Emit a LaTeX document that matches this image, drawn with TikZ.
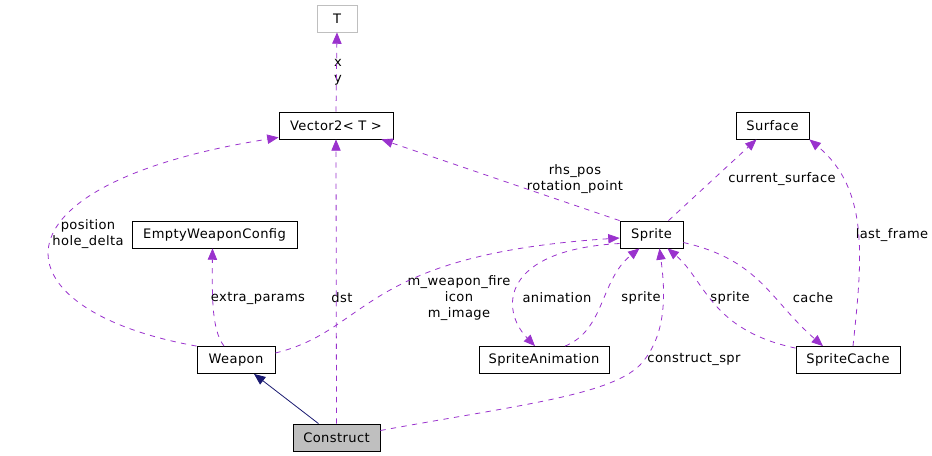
\documentclass[tikz,border=0pt]{standalone}
\usepackage{fontspec}
\setmainfont{DejaVu Sans}[LetterSpace=3]
\usetikzlibrary{arrows.meta, calc}
\definecolor{edgepurple}{HTML}{9A32CD}
\definecolor{edgenavy}{HTML}{191970}
\definecolor{boxgray}{HTML}{BFBFBF}

\begin{document}
\begin{tikzpicture}[x=0.75pt, y=-0.75pt,
    font=\fontsize{9.8pt}{12pt}\selectfont,
    cls/.style={draw=black, line width=0.6pt, inner sep=0pt,
                minimum height=20.25pt, minimum width=#1},
    usage/.style={draw=edgepurple, line width=0.6pt, dash pattern=on 4pt off 4pt,
                  -{Triangle[length=8.5pt, width=7pt]}},
    inherit/.style={draw=edgenavy, line width=0.6pt,
                    -{Triangle[length=8.5pt, width=7pt]}},
    lbl/.style={align=center, inner sep=0pt}
]
    \useasboundingbox (0,0) rectangle (932,456);

    % classes
    \node[cls=30pt, draw=boxgray] (t) at (337,18.5) {T};
    \node[cls=85.5pt] (vector) at (336,125.5) {Vector2< T >};
    \node[cls=54.75pt] (surface) at (772.5,125.5) {Surface};
    \node[cls=47.25pt] (sprite) at (651.5,234.5) {Sprite};
    \node[cls=123.75pt] (emptycfg) at (214.5,234.5) {EmptyWeaponConfig};
    \node[cls=58.5pt] (weapon) at (236,360) {Weapon};
    \node[cls=97.5pt] (spriteanim) at (544,360) {SpriteAnimation};
    \node[cls=78pt] (spritecache) at (848,360) {SpriteCache};
    \node[cls=65.25pt, fill=boxgray] (construct) at (336.5,437.5) {Construct};

    % member labels
    \node[lbl] (lblxy) at (338,72) {x\\y};
    \node[lbl] (lblpos) at (88,234.5) {position\\hole\_delta};
    \node[lbl] (lblextra) at (258,298) {extra\_params};
    \node[lbl] (lbldst) at (342,298) {dst};
    \node[lbl] (lblfire) at (459,298.5) {m\_weapon\_fire\\icon\\m\_image};
    \node[lbl] (lblrhs) at (575,179) {rhs\_pos\\rotation\_point};
    \node[lbl] (lblsurf) at (782,179) {current\_surface};
    \node[lbl] (lblframe) at (892,235) {last\_frame};
    \node[lbl] (lblanim) at (557,298) {animation};
    \node[lbl] (lblsprite) at (641,298) {sprite};
    \node[lbl] (lblsprite2) at (730,298) {sprite};
    \node[lbl] (lblcache) at (813,298) {cache};
    \node[lbl] (lblconstr) at (694,359) {construct\_spr};

    % usage relations
    \draw[usage] (vector.north) -- (t.south);
    \draw[usage] (weapon.north west) .. controls (-5,310) and (-20,185) .. ($(vector.south west)+(0,-2)$);
    \draw[usage] (construct.north) -- (vector.south);
    \draw[usage] ($(weapon.north)+(-12,0)$) .. controls (212,330) and (212,300) .. ($(emptycfg.south)+(-2,0)$);
    \draw[usage] ($(weapon.east)+(0,-7)$) .. controls (370,330) and (360,255) .. ($(sprite.west)+(0,3.5)$);
    \draw[usage] (sprite.north west) -- ($(vector.south east)+(-12,0)$);
    \draw[usage] ($(sprite.north)+(17,0)$) -- ($(surface.south)+(-16,0)$);
    \draw[usage] ($(spritecache.north)+(5,0)$) .. controls (862,260) and (870,190) .. (surface.south east);
    \draw[usage] ($(sprite.east)+(0,8)$) .. controls (760,260) and (770,300) .. ($(spritecache.north)+(-25,0)$);
    \draw[usage] ($(spritecache.north west)+(0,2)$) .. controls (710,330) and (705,280) .. ($(sprite.south)+(16,0)$);
    \draw[usage] ($(spriteanim.north)+(21,0)$) .. controls (605,330) and (600,280) .. ($(sprite.south)+(-12,0)$);
    \draw[usage] ($(sprite.west)+(0,9)$) .. controls (500,250) and (500,310) .. ($(spriteanim.north)+(-9,0)$);
    \draw[usage] ($(construct.east)+(0,-7)$) .. controls (520,405) and (610,395) .. (640,365)
        .. controls (668,335) and (665,290) .. ($(sprite.south)+(8,0)$);

    % inheritance
    \draw[inherit] ($(construct.north)+(-18,0)$) -- ($(weapon.south)+(18,0)$);
\end{tikzpicture}
\end{document}
